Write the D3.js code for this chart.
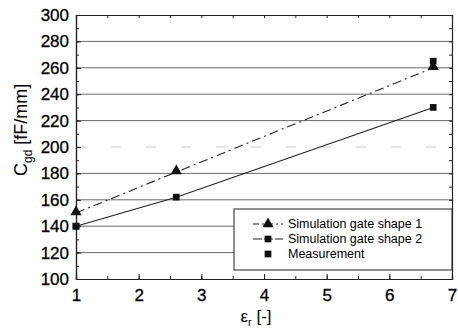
<!DOCTYPE html>
<html>
<head>
<meta charset="utf-8">
<script src="https://cdn.jsdelivr.net/npm/d3@7"></script>
<style>
  body { margin: 0; background: #fff; }
  svg { font-family: Arial, "Liberation Sans", sans-serif; }
</style>
</head>
<body>
<svg id="chart" width="458" height="329"></svg>
<script>
// data
var epsSim = [1, 2.6, 6.7];
var simShape1 = [150, 181, 260];
var simShape2 = [140, 162, 230];
var epsMeas = [1, 6.7];
var measurement = [140, 265];
var xTicks = [1, 2, 3, 4, 5, 6, 7];
var yTicks = [100, 120, 140, 160, 180, 200, 220, 240, 260, 280, 300];
var legendNames = ["Simulation gate shape 1", "Simulation gate shape 2", "Measurement"];

var width = 458, height = 329;
var margin = { left: 76, right: 6, top: 15, bottom: 50 };

var svg = d3.select("#chart");

var x = d3.scaleLinear().domain([1, 7]).range([margin.left, width - margin.right]);
var y = d3.scaleLinear().domain([100, 300]).range([height - margin.bottom, margin.top]);

// gridlines
svg.append("g").selectAll("line")
  .data(yTicks.slice(1, -1))
  .enter().append("line")
  .attr("x1", x(1)).attr("x2", x(7))
  .attr("y1", function (d) { return y(d); })
  .attr("y2", function (d) { return y(d); })
  .attr("stroke", function (d) { return d == 200 ? "#bbb" : "#444"; })
  .attr("stroke-dasharray", function (d) { return d == 200 ? "10,25" : null; })
  .attr("stroke-width", 0.8);

// axes, ticks inward
var xMinor = d3.range(1, 7.01, 0.5);
var yMinor = d3.range(100, 300.1, 10);

svg.append("g")
  .attr("transform", "translate(0," + y(100) + ")")
  .call(d3.axisBottom(x).tickValues(xMinor).tickSize(-3).tickFormat(""));
svg.append("g")
  .attr("transform", "translate(0," + y(100) + ")")
  .call(d3.axisBottom(x).tickValues(xTicks).tickSize(-5).tickPadding(10).tickFormat(d3.format("d")));
svg.append("g")
  .attr("transform", "translate(0," + y(300) + ")")
  .call(d3.axisTop(x).tickValues(xMinor).tickSize(-3).tickFormat(""));
svg.append("g")
  .attr("transform", "translate(" + x(1) + ",0)")
  .call(d3.axisLeft(y).tickValues(yMinor).tickSize(-3).tickFormat(""));
svg.append("g")
  .attr("transform", "translate(" + x(1) + ",0)")
  .call(d3.axisLeft(y).tickValues(yTicks).tickSize(-5).tickPadding(7).tickFormat(d3.format("d")));
svg.append("g")
  .attr("transform", "translate(" + x(7) + ",0)")
  .call(d3.axisRight(y).tickValues(yMinor).tickSize(-3).tickFormat(""));

svg.selectAll(".domain").attr("stroke", "#222").attr("stroke-width", 1.2);
svg.selectAll(".tick line").attr("stroke", "#222");
svg.selectAll(".tick text").attr("fill", "#000").style("font-size", "17px")
  .attr("stroke", "#000").attr("stroke-width", 0.3);

// lines
var line1 = d3.line()
  .x(function (d, i) { return x(epsSim[i]); })
  .y(function (d) { return y(d); });

svg.append("path")
  .datum(simShape1)
  .attr("d", line1)
  .attr("fill", "none")
  .attr("stroke", "#222")
  .attr("stroke-width", 1.1)
  .attr("stroke-dasharray", "9,4,2,4");

svg.append("path")
  .datum(simShape2)
  .attr("d", line1)
  .attr("fill", "none")
  .attr("stroke", "#222")
  .attr("stroke-width", 1.1);

var tri = d3.symbol().type(d3.symbolTriangle).size(55);
var sq = d3.symbol().type(d3.symbolSquare).size(45);

svg.append("g").selectAll("path")
  .data(measurement)
  .enter().append("path")
  .attr("d", sq)
  .attr("transform", function (d, i) { return "translate(" + x(epsMeas[i]) + "," + y(d) + ")"; })
  .attr("fill", "#111");

svg.append("g").selectAll("path")
  .data(simShape1)
  .enter().append("path")
  .attr("d", tri)
  .attr("transform", function (d, i) { return "translate(" + x(epsSim[i]) + "," + (y(d) - 1) + ")"; })
  .attr("fill", "#111");

svg.append("g").selectAll("path")
  .data(simShape2)
  .enter().append("path")
  .attr("d", sq)
  .attr("transform", function (d, i) { return "translate(" + x(epsSim[i]) + "," + y(d) + ")"; })
  .attr("fill", "#111");

// legend
var lg = svg.append("g").attr("transform", "translate(234,209)");
lg.append("rect")
  .attr("width", x(7) - 234).attr("height", 61)
  .attr("fill", "#fff").attr("stroke", "#222").attr("stroke-width", 1);

var rows = lg.selectAll(".row")
  .data(legendNames)
  .enter().append("g")
  .attr("transform", function (d, i) { return "translate(0," + (15 + i * 15) + ")"; });

rows.filter(function (d, i) { return i < 2; })
  .append("line")
  .attr("x1", 19).attr("x2", 49).attr("y1", 0).attr("y2", 0)
  .attr("stroke", "#222").attr("stroke-width", 1.1)
  .attr("stroke-dasharray", function (d, i) { return i == 0 ? "6,3,2,3" : "9,2"; });

rows.append("path")
  .attr("d", function (d, i) { return i == 0 ? tri() : sq(); })
  .attr("transform", "translate(34,0)")
  .attr("fill", "#111");

rows.append("text")
  .attr("x", 54).attr("dy", "0.35em")
  .style("font-size", "12.5px")
  .attr("fill", "#000")
  .text(function (d) { return d; });

// axis titles
var yl = svg.append("text")
  .attr("transform", "translate(27," + y(213) + ") rotate(-90)")
  .attr("text-anchor", "middle")
  .style("font-size", "18px")
  .attr("fill", "#000");
yl.append("tspan").text("C");
yl.append("tspan").attr("dy", 5).style("font-size", "12px").text("gd");
yl.append("tspan").attr("dy", -5).text(" [fF/mm]");

var xl = svg.append("text")
  .attr("x", 256).attr("y", 322)
  .attr("text-anchor", "middle")
  .style("font-size", "17px")
  .attr("fill", "#000");
xl.append("tspan").text("ε");
xl.append("tspan").attr("dy", 4).style("font-size", "11px").text("r");
xl.append("tspan").attr("dy", -4).text(" [-]");
</script>
</body>
</html>
